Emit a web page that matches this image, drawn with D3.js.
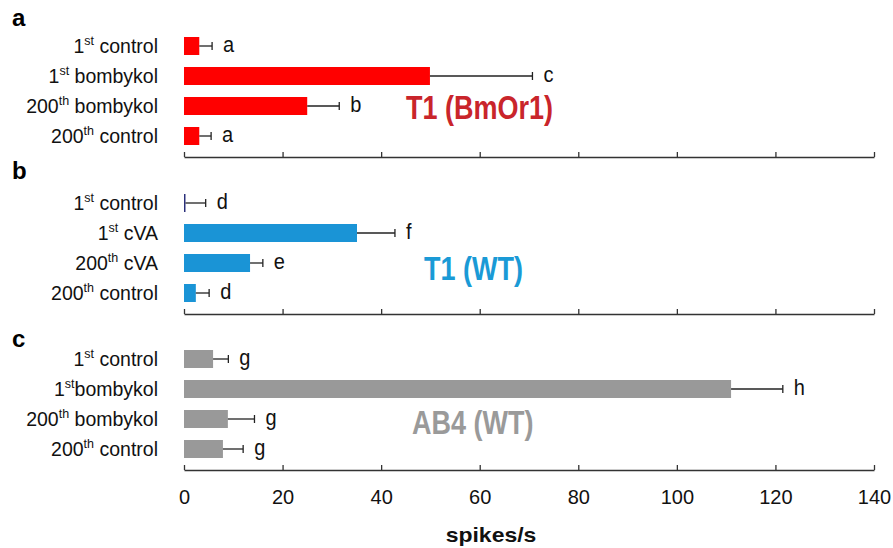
<!DOCTYPE html>
<html>
<head>
<meta charset="utf-8">
<script src="https://cdn.jsdelivr.net/npm/d3@7"></script>
<style>
  body { margin: 0; background: #fff; }
  text { font-family: "Liberation Sans", Arial, sans-serif; }
</style>
</head>
<body>
<div id="chart"></div>
<script>
// data (spikes/s, mean and SEM)
var categoriesA = ["1st control", "1st bombykol", "200th bombykol", "200th control"];
var meansA = [3.1, 49.9, 25.0, 3.1];
var semA = [2.6, 20.8, 6.5, 2.4];
var lettersA = ["a", "c", "b", "a"];

var categoriesB = ["1st control", "1st cVA", "200th cVA", "200th control"];
var meansB = [0.3, 35.1, 13.4, 2.4];
var semB = [4.1, 7.7, 2.6, 2.7];
var lettersB = ["d", "f", "e", "d"];

var categoriesC = ["1st control", "1stbombykol", "200th bombykol", "200th control"];
var meansC = [5.9, 111.0, 8.9, 7.9];
var semC = [3.1, 10.5, 5.4, 4.1];
var lettersC = ["g", "h", "g", "g"];

var xTicks = [0, 20, 40, 60, 80, 100, 120, 140];
var panelLetters = ["a", "b", "c"];
var panelTitles = ["T1 (BmOr1)", "T1 (WT)", "AB4 (WT)"];

// layout
var width = 893, height = 548;
var x0 = 184, x1 = 874;
var axisY = [157, 314, 470];
var letterY = [26, 179, 347];
var titlePos = [[406, 119], [424, 280], [412, 434]];
var barColor = ["#ff0000", "#1a94d6", "#999999"];
var titleColor = ["#c9252b", "#1a9ad6", "#9a9a9a"];

var panels = [
  {cats: categoriesA, means: meansA, sem: semA, letters: lettersA},
  {cats: categoriesB, means: meansB, sem: semB, letters: lettersB},
  {cats: categoriesC, means: meansC, sem: semC, letters: lettersC}
];

// text in the figure is not quite in Arial proportions, so stretch it vertically
function place(x, y, s) {
  return "translate(" + x + "," + y + ") scale(1," + s + ")";
}

var svg = d3.select("#chart")
  .append("svg")
    .attr("width", width)
    .attr("height", height);

var x = d3.scaleLinear()
  .domain([0, 140])
  .range([x0, x1]);

panels.forEach(function(p, i) {
  var base = axisY[i];
  var y = d3.scaleBand()
    .domain(p.cats)
    .range([base - 126, base - 6])
    .paddingInner(0.4)
    .paddingOuter(0.2);

  var g = svg.append("g");

  // panel letter
  g.append("text")
    .attr("x", 12)
    .attr("y", letterY[i])
    .attr("font-size", 24)
    .attr("font-weight", "bold")
    .text(panelLetters[i]);

  // category labels with superscript
  g.selectAll("text.cat")
    .data(p.cats)
    .enter()
    .append("text")
      .attr("class", "cat")
      .attr("x", 158)
      .attr("y", d => y(d) + y.bandwidth() / 2 + 7)
      .attr("text-anchor", "end")
      .attr("font-size", 19.5)
      .attr("fill", "#111")
      .each(function(d) {
        var m = d.match(/^(\d+)(st|th)(.*)$/);
        var t = d3.select(this);
        t.append("tspan").text(m[1]);
        t.append("tspan").attr("font-size", 12.5).attr("dy", -8).text(m[2]);
        t.append("tspan").attr("dy", 8).text(m[3]);
      });

  // bars
  g.selectAll("rect")
    .data(p.means)
    .enter()
    .append("rect")
      .attr("x", x(0))
      .attr("y", (d, j) => y(p.cats[j]))
      .attr("width", d => x(d) - x(0))
      .attr("height", y.bandwidth())
      .attr("fill", d => d < 1 ? "#2a2f7a" : barColor[i]);

  // error bars
  var err = g.selectAll("g.err")
    .data(p.means)
    .enter()
    .append("g")
      .attr("class", "err")
      .attr("transform", (d, j) => "translate(0," + (y(p.cats[j]) + y.bandwidth() / 2) + ")");

  err.append("line")
    .attr("x1", d => x(d))
    .attr("x2", (d, j) => x(d + p.sem[j]))
    .attr("stroke", "#222")
    .attr("stroke-width", 1.3);

  err.append("line")
    .attr("x1", (d, j) => x(d + p.sem[j]))
    .attr("x2", (d, j) => x(d + p.sem[j]))
    .attr("y1", -4)
    .attr("y2", 4)
    .attr("stroke", "#222")
    .attr("stroke-width", 1.3);

  err.append("text")
    .attr("transform", (d, j) => place(x(d + p.sem[j]) + 11, 6, 1.1))
    .attr("font-size", 20)
    .attr("fill", "#111")
    .text((d, j) => p.letters[j]);

  // title
  g.append("text")
    .attr("transform", place(titlePos[i][0], titlePos[i][1], 1.2))
    .attr("font-size", 27)
    .attr("font-weight", "bold")
    .attr("fill", titleColor[i])
    .text(panelTitles[i]);

  // axis, ticks pointing up
  var axis = d3.axisBottom(x)
    .tickValues(xTicks)
    .tickSizeInner(-5)
    .tickSizeOuter(0);
  if (i < 2) axis.tickFormat("");

  var ax = g.append("g")
    .attr("transform", "translate(0," + base + ")")
    .call(axis);
  ax.select(".domain").attr("stroke", "#333").attr("stroke-width", 1.3);
  ax.selectAll(".tick line").attr("stroke", "#333").attr("stroke-width", 1.3);
  ax.selectAll(".tick text")
    .attr("font-family", "Liberation Sans, Arial, sans-serif")
    .attr("font-size", 20)
    .attr("fill", "#111")
    .attr("dy", null)
    .attr("y", null)
    .attr("transform", place(0, 34, 1.05));
});

// x label
svg.append("text")
  .attr("transform", place(491, 542, 0.85))
  .attr("text-anchor", "middle")
  .attr("font-size", 23)
  .attr("font-weight", "bold")
  .attr("fill", "#111")
  .text("spikes/s");
</script>
</body>
</html>
